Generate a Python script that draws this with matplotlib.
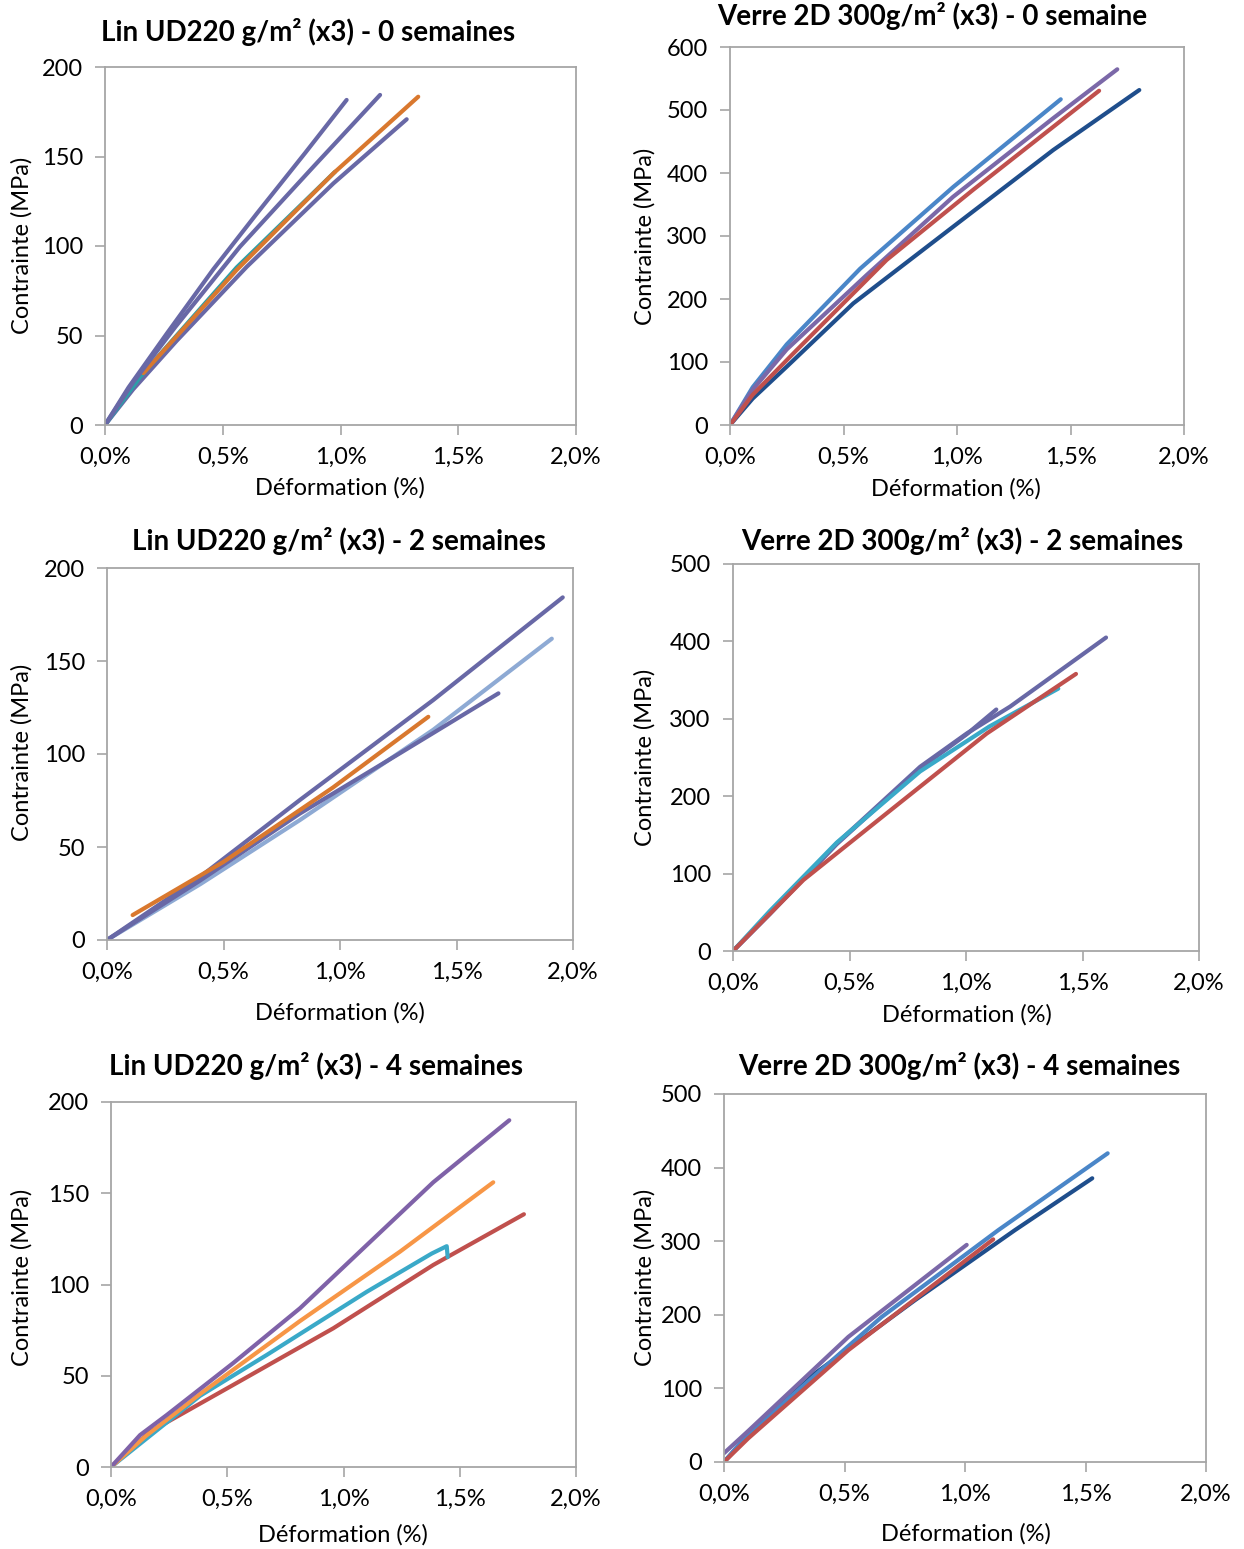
import matplotlib
matplotlib.use("Agg")
import matplotlib.pyplot as plt
from matplotlib.ticker import FuncFormatter

plt.rcParams['font.family'] = ['Lato', 'DejaVu Sans']

W, H = 1244, 1549

# couleurs (style Excel)
VIOLET = '#6868a6'
ORANGE = '#d9782e'
TURQ = '#2c9fa8'
BLEU_CLAIR = '#4a86c8'
BLEU_FONCE = '#1f4e8c'
ROUGE = '#c0504d'
VIOLET2 = '#7b68a8'
BLEU_PALE = '#8eaad4'
CYAN = '#3aa9c8'
ORANGE2 = '#f79646'
VIOLET3 = '#7f62a8'

# --- Lin 0 semaines ---
lin0_a_x = [0, 0.1, 0.262, 0.46, 0.644, 0.85, 1.026]
lin0_a_y = [0, 21, 51, 87, 118, 152, 181.6]
lin0_b_x = [0, 0.12, 0.3, 0.573, 0.885, 1.168]
lin0_b_y = [0, 24, 55, 99.6, 144.3, 184.4]
lin0_d_x = [0, 0.12, 0.304, 0.602, 0.97, 1.281]
lin0_d_y = [0, 20, 47, 88.4, 135, 170.8]
lin0_t_x = [0, 0.15, 0.559, 0.977]
lin0_t_y = [0, 27, 88, 141.5]
lin0_o_x = [0.163, 0.559, 0.97, 1.33]
lin0_o_y = [29, 86.6, 140.6, 183.4]

# --- Verre 0 semaine ---
ver0_lb_x = [0, 0.1, 0.25, 0.573, 0.984, 1.457]
ver0_lb_y = [0, 60, 128, 248, 378, 517]
ver0_v_x = [0, 0.1, 0.25, 0.602, 0.982, 1.424, 1.706]
ver0_v_y = [0, 56, 120, 238, 362, 487, 564.6]
ver0_r_x = [0, 0.1, 0.294, 0.69, 1.07, 1.626]
ver0_r_y = [0, 48, 119, 262, 373, 530.6]
ver0_db_x = [0, 0.1, 0.25, 0.543, 0.984, 1.424, 1.803]
ver0_db_y = [0, 42, 92.6, 193, 315, 436.5, 531.7]

# --- Lin 2 semaines ---
lin2_v1_x = [0, 0.4, 0.828, 1.4, 1.956]
lin2_v1_y = [0, 34, 75.3, 129, 184.2]
lin2_bp_x = [0, 0.4, 0.828, 1.4, 1.909]
lin2_bp_y = [0, 30, 64.5, 113, 162]
lin2_v2_x = [0, 0.4, 0.828, 1.257, 1.68]
lin2_v2_y = [0, 32, 68, 100.4, 132.6]
lin2_o_x = [0.11, 0.5, 0.97, 1.379]
lin2_o_y = [13.4, 42, 82, 120]

# --- Verre 2 semaines ---
ver2_v1_x = [0, 0.159, 0.445, 0.803, 1.003, 1.189, 1.601]
ver2_v1_y = [0, 48.6, 139, 238, 281, 315.7, 405]
ver2_v2_x = [0, 0.159, 0.445, 0.803, 1.003, 1.13]
ver2_v2_y = [0, 48, 138, 236, 280, 312]
ver2_c_x = [0, 0.159, 0.445, 0.803, 1.1, 1.396]
ver2_c_y = [0, 52, 140, 232, 290, 339]
ver2_r_x = [0, 0.302, 0.66, 1.089, 1.472]
ver2_r_y = [0, 91.7, 178, 281, 358]

# --- Lin 4 semaines ---
lin4_v_x = [0, 0.125, 0.24, 0.526, 0.813, 1.1, 1.386, 1.713]
lin4_v_y = [0, 17.5, 28.5, 57, 87, 121.6, 156, 190]
lin4_o_x = [0, 0.15, 0.383, 0.813, 1.243, 1.644]
lin4_o_y = [0, 17, 40, 80, 118, 156]
lin4_c_x = [0, 0.383, 0.67, 1.1, 1.38, 1.444, 1.448]
lin4_c_y = [0, 39, 61.4, 96, 117, 121, 115]
lin4_r_x = [0, 0.168, 0.526, 0.956, 1.386, 1.776]
lin4_r_y = [0, 19.3, 45, 76, 110.7, 138.5]

# --- Verre 4 semaines ---
ver4_lb_x = [0, 0.1, 0.654, 1.138, 1.592]
ver4_lb_y = [0, 38, 197, 315, 419.4]
ver4_db_x = [0, 0.1, 0.378, 0.793, 1.207, 1.528]
ver4_db_y = [0, 36, 120.5, 220, 315, 385.5]
ver4_v_x = [0, 0.1, 0.516, 1.007]
ver4_v_y = [12, 42, 170, 295]
ver4_r_x = [0, 0.1, 0.516, 1.117]
ver4_r_y = [0, 32, 152, 302.5]

panels = [
    dict(box=(105, 67, 576, 425), ymax=200, ystep=50,
         title='Lin UD220 g/m² (x3) - 0 semaines', tpos=(308, 32),
         xl=(340, 488), yl=(22, 245),
         curves=[(lin0_d_x, lin0_d_y, VIOLET), (lin0_t_x, lin0_t_y, TURQ),
                 (lin0_o_x, lin0_o_y, ORANGE), (lin0_b_x, lin0_b_y, VIOLET),
                 (lin0_a_x, lin0_a_y, VIOLET)]),
    dict(box=(730, 47, 1184, 425), ymax=600, ystep=100,
         title='Verre 2D 300g/m² (x3) - 0 semaine', tpos=(932, 16),
         xl=(956, 489), yl=(645, 236),
         curves=[(ver0_db_x, ver0_db_y, BLEU_FONCE), (ver0_lb_x, ver0_lb_y, BLEU_CLAIR),
                 (ver0_v_x, ver0_v_y, VIOLET2), (ver0_r_x, ver0_r_y, ROUGE)]),
    dict(box=(107, 568, 573, 940), ymax=200, ystep=50,
         title='Lin UD220 g/m² (x3) - 2 semaines', tpos=(339, 541),
         xl=(340, 1013), yl=(22, 752),
         curves=[(lin2_bp_x, lin2_bp_y, BLEU_PALE), (lin2_v2_x, lin2_v2_y, VIOLET),
                 (lin2_v1_x, lin2_v1_y, VIOLET), (lin2_o_x, lin2_o_y, ORANGE)]),
    dict(box=(733, 564, 1199, 951), ymax=500, ystep=100,
         title='Verre 2D 300g/m² (x3) - 2 semaines', tpos=(962, 541),
         xl=(967, 1015), yl=(645, 757),
         curves=[(ver2_v2_x, ver2_v2_y, VIOLET), (ver2_v1_x, ver2_v1_y, VIOLET),
                 (ver2_c_x, ver2_c_y, CYAN), (ver2_r_x, ver2_r_y, ROUGE)]),
    dict(box=(111, 1102, 576, 1467), ymax=200, ystep=50,
         title='Lin UD220 g/m² (x3) - 4 semaines', tpos=(316, 1066),
         xl=(343, 1535), yl=(22, 1277),
         curves=[(lin4_r_x, lin4_r_y, ROUGE), (lin4_c_x, lin4_c_y, CYAN),
                 (lin4_o_x, lin4_o_y, ORANGE2), (lin4_v_x, lin4_v_y, VIOLET3)]),
    dict(box=(724, 1094, 1206, 1462), ymax=500, ystep=100,
         title='Verre 2D 300g/m² (x3) - 4 semaines', tpos=(959, 1066),
         xl=(966, 1534), yl=(645, 1277),
         curves=[(ver4_db_x, ver4_db_y, BLEU_FONCE), (ver4_lb_x, ver4_lb_y, BLEU_CLAIR),
                 (ver4_r_x, ver4_r_y, ROUGE), (ver4_v_x, ver4_v_y, VIOLET2)]),
]

fig = plt.figure(figsize=(W / 100, H / 100), dpi=100)
pct = FuncFormatter(lambda v, p: ('%.1f%%' % v).replace('.', ','))

for p in panels:
    x0, y0, x1, y1 = p['box']
    ax = fig.add_axes([x0 / W, 1 - y1 / H, (x1 - x0) / W, (y1 - y0) / H])
    for xs, ys, c in p['curves']:
        ax.plot(xs, ys, color=c, lw=3, solid_capstyle='round', solid_joinstyle='round')
    ax.set_xlim(0, 2)
    ax.set_ylim(0, p['ymax'])
    ax.set_xticks([0, 0.5, 1.0, 1.5, 2.0])
    ax.set_yticks(range(0, p['ymax'] + 1, p['ystep']))
    ax.xaxis.set_major_formatter(pct)
    for s in ax.spines.values():
        s.set_color('#a6a6a6')
        s.set_linewidth(1.3)
    ax.tick_params(direction='out', length=7, width=1.2, color='#a6a6a6',
                   labelsize=17, labelcolor='black', pad=9)
    fig.text(p['tpos'][0] / W, 1 - p['tpos'][1] / H, p['title'],
             ha='center', va='center', fontsize=20, fontweight='bold')
    fig.text(p['xl'][0] / W, 1 - p['xl'][1] / H, 'Déformation (%)',
             ha='center', va='center', fontsize=17)
    fig.text(p['yl'][0] / W, 1 - p['yl'][1] / H, 'Contrainte (MPa)',
             ha='center', va='center', fontsize=17, rotation=90)

fig.savefig('out.png', dpi=100)
